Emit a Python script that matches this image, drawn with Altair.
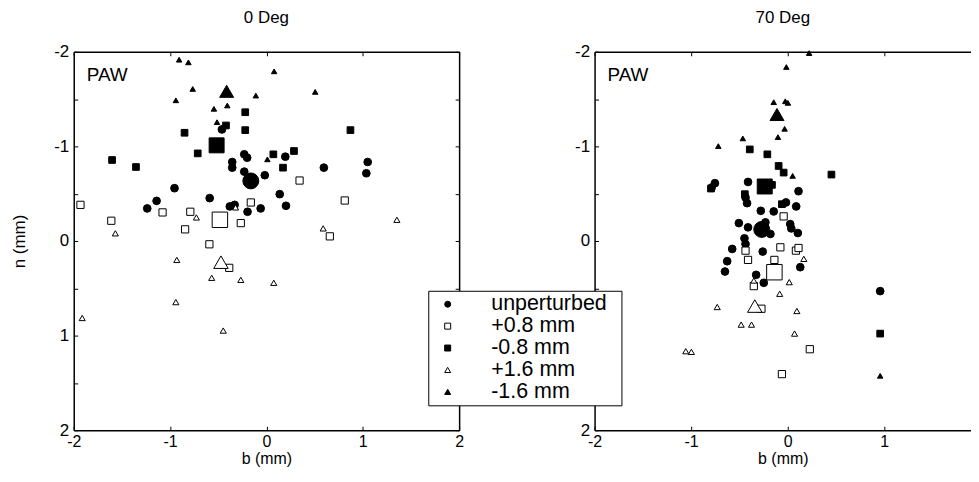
import altair as alt
import pandas as pd

FONT = "Liberation Sans"
CATS = ["unperturbed", "+0.8 mm", "-0.8 mm", "+1.6 mm", "-1.6 mm"]
SHAPES = ["circle", "square", "square", "triangle-up", "triangle-up"]
FILLS = ["black", "white", "black", "white", "black"]
STROKES = ["black", "black", "black", "black", "black"]
SMALL_SIZES = [60, 30, 42, 60, 72]
BIG_SIZES = [256, 196, 196, 361, 400]

LABEL_VALUES = [-2, -1, 0, 1, 2]
XTICKS = [-2, -1, 0, 1, 2]
YTICKS = [-2, -1.5, -1, -0.5, 0, 0.5, 1, 1.5, 2]

# ---------------- 0 Deg panel ----------------
d0_unp_b = [-0.462, -0.23, -0.20, -0.355, -0.355, -0.23, -0.954, -0.589, -1.14, -1.237, -0.38,
            -0.33, -0.196, -0.06, 0.196, -0.017, 0.596, 1.051, 1.037, 0.138, 0.203]
d0_unp_n = [-1.179, -0.916, -0.88, -0.835, -0.775, -0.733, -0.558, -0.453, -0.424, -0.344, -0.365,
            -0.382, -0.309, -0.344, -0.891, -0.695, -0.775, -0.835, -0.716, -0.495, -0.372]
d0_p08_b = [-1.93, -1.61, -1.078, -0.79, -0.162, -0.266, -0.844, -0.592, -0.386, 0.344, 0.813, 0.658]
d0_p08_n = [-0.382, -0.214, -0.302, -0.309, -0.407, -0.189, -0.123, 0.035, 0.284, -0.639, -0.428, -0.049]
d0_m08_b = [-0.22, -0.42, -0.22, -0.85, -0.713, -1.602, -1.354, 0.872, 0.072, 0.286, 0.172]
d0_m08_n = [-1.361, -1.221, -1.172, -1.144, -0.926, -0.856, -0.782, -1.172, -0.916, -0.951, -0.775]
d0_p16_b = [-0.727, -0.32, -1.568, -0.93, -0.568, -0.266, -0.94, -1.912, -0.448, 0.589, 1.354, 0.076]
d0_p16_n = [-0.249, -0.355, -0.081, 0.2, 0.389, 0.411, 0.646, 0.814, 0.947, -0.133, -0.224, 0.442]
d0_m16_b = [-0.906, -0.81, -0.765, -0.94, -0.545, -0.406, -0.11, -0.513, 0.08, 0.506, 0.01]
d0_m16_n = [-1.916, -1.888, -1.607, -1.487, -1.397, -1.432, -1.537, -1.256, -1.793, -1.576, -0.863]
d0_mean_b = [-0.162, -0.483, -0.517, -0.472, -0.413]
d0_mean_n = [-0.635, -0.224, -1.011, 0.224, -1.582]

# ---------------- 70 Deg panel ----------------
d70_unp_b = [-0.753, -0.787, -0.41, -0.436, -0.42, -0.278, -0.144, -0.505, -0.41, -0.23, -0.178,
             -0.447, -0.436, -0.574, -0.258, -0.626, -0.649, -0.326, -0.247, 0.113, -0.017, 0.089,
             0.027, 0.038, 0.106, 0.131, 0.959]
d70_unp_n = [-0.611, -0.565, -0.624, -0.46, -0.4, -0.319, -0.312, -0.189, -0.144, -0.197, -0.074,
             -0.028, 0.032, 0.084, 0.112, 0.214, 0.323, 0.358, 0.442, -0.526, -0.407, -0.365,
             -0.179, -0.133, -0.084, 0.277, 0.53]
d70_p08_b = [-0.041, -0.075, -0.436, -0.41, -0.137, -0.35, -0.271, -0.059, 0.086, 0.113, 0.23]
d70_p08_n = [-0.26, 0.067, 0.102, 0.2, 0.2, 0.477, 0.716, 1.407, 0.102, 0.074, 1.144]
d70_m08_b = [-0.392, -0.21, -0.093, -0.041, -0.794, -0.162, -0.443, -0.059, 0.454, 0.959]
d70_m08_n = [-0.968, -0.916, -0.793, -0.723, -0.554, -0.593, -0.495, -0.389, -0.702, 0.979]
d70_p16_b = [-0.35, 0.017, -0.082, 0.168, -0.729, -0.481, -0.374, -1.055, -0.997, 0.096, 0.072]
d70_p16_n = [0.418, 0.435, 0.558, 0.189, 0.698, 0.884, 0.884, 1.165, 1.172, 0.74, 0.979]
d70_m16_b = [-0.013, -0.144, -0.024, 0.003, -0.031, -0.1, -0.464, -0.718, 0.223, 0.052, 0.959]
d70_m16_n = [-1.839, -1.467, -1.477, -1.46, -1.186, -1.098, -1.084, -1.003, -1.986, -0.688, 1.425]
d70_mean_b = [-0.268, -0.137, -0.237, -0.34, -0.11]
d70_mean_n = [-0.122, 0.33, -0.576, 0.688, -1.337]


def frame(series_b, series_n):
    rows = []
    for cat, bs, ns in zip(CATS, series_b, series_n):
        for b, n in zip(bs, ns):
            rows.append({"b": b, "n": n, "series": cat, "sz": cat})
    return pd.DataFrame(rows)


def mean_frame(mb, mn):
    return pd.DataFrame({"b": mb, "n": mn, "series": CATS, "sz": CATS})


df0 = frame([d0_unp_b, d0_p08_b, d0_m08_b, d0_p16_b, d0_m16_b],
            [d0_unp_n, d0_p08_n, d0_m08_n, d0_p16_n, d0_m16_n])
m0 = mean_frame(d0_mean_b, d0_mean_n)
df70 = frame([d70_unp_b, d70_p08_b, d70_m08_b, d70_p16_b, d70_m16_b],
             [d70_unp_n, d70_p08_n, d70_m08_n, d70_p16_n, d70_m16_n])
m70 = mean_frame(d70_mean_b, d70_mean_n)

YS = alt.Scale(domain=[-2, 2], nice=False, zero=False, reverse=True)
PLOT_H = 380


def ax(orient, **kw):
    base = dict(orient=orient, grid=False, domainColor="black", tickColor="black",
                labelColor="black", titleColor="black", labelFont=FONT, titleFont=FONT,
                labelFontSize=17, titleFontSize=17, titleFontWeight="normal",
                domainWidth=1.5, tickWidth=1, labelFlush=False, labelOverlap=False,
                labelBound=False)
    base.update(kw)
    return alt.Axis(**base)


def panel(df, mdf, title, ytitle, legend, xmax, width, right_box):
    xs = alt.Scale(domain=[-2, xmax], nice=False, zero=False)
    xlab = [v for v in LABEL_VALUES if v <= xmax]
    xt = [v for v in XTICKS if v <= xmax]
    base = alt.Chart(df)
    ghost = base.mark_point(opacity=0)

    def X(axis):
        return alt.X("b:Q", scale=xs, axis=axis)

    def Y(axis):
        return alt.Y("n:Q", scale=YS, axis=axis)

    lab_expr = "'' + datum.value"
    l_lab = ghost.encode(
        x=X(ax("bottom", values=xlab, ticks=False, labelExpr=lab_expr,
               labelPadding=3, titlePadding=1, title="b (mm)",
               labelFontSize=16, titleFontSize=16)),
        y=Y(ax("left", values=LABEL_VALUES, ticks=False, labelExpr=lab_expr,
               labelPadding=5, titlePadding=25, title=ytitle)),
    )
    tick_kw = dict(domain=False, labels=False, ticks=True, tickSize=4, offset=-4, title=None)
    l_t1 = ghost.encode(
        x=X(ax("bottom", values=xt, **tick_kw)),
        y=Y(ax("left", values=YTICKS, **tick_kw)),
    )
    if right_box:
        l_box = ghost.encode(
            x=X(ax("top", labels=False, ticks=False, title=None)),
            y=Y(ax("right", labels=False, ticks=False, title=None)),
        )
        l_t2 = ghost.encode(
            x=X(ax("top", values=xt, **tick_kw)),
            y=Y(ax("right", values=YTICKS, **tick_kw)),
        )
    else:
        l_box = ghost.encode(x=X(ax("top", labels=False, ticks=False, title=None)), y=Y(None))
        l_t2 = ghost.encode(x=X(ax("top", values=xt, **tick_kw)), y=Y(None))

    shape = alt.Shape("series:N", scale=alt.Scale(domain=CATS, range=SHAPES), legend=legend)
    fill = alt.Fill("series:N", scale=alt.Scale(domain=CATS, range=FILLS), legend=legend)
    stroke = alt.Stroke("series:N", scale=alt.Scale(domain=CATS, range=STROKES), legend=legend)

    pts = base.mark_point(filled=True, strokeWidth=1, opacity=1).encode(
        x=X(None), y=Y(None), shape=shape, fill=fill, stroke=stroke,
        size=alt.Size("sz:N", scale=alt.Scale(domain=CATS, range=SMALL_SIZES), legend=None),
    )
    big = alt.Chart(mdf).mark_point(filled=True, strokeWidth=1, opacity=1).encode(
        x=X(None), y=Y(None), shape=shape, fill=fill, stroke=stroke,
        size=alt.Size("sz:N", scale=alt.Scale(domain=CATS, range=BIG_SIZES), legend=None),
    )
    paw = alt.Chart(pd.DataFrame({"t": ["PAW"]})).mark_text(
        font=FONT, fontSize=19, align="left", baseline="middle", color="black"
    ).encode(x=alt.value(13), y=alt.value(23), text="t:N")

    return alt.layer(l_lab, l_box, l_t1, l_t2, pts, big, paw).resolve_axis(
        x="independent", y="independent"
    ).resolve_scale(size="independent").properties(
        width=width, height=PLOT_H,
        title=alt.TitleParams(text=title, font=FONT, fontSize=17, fontWeight="normal",
                              color="black", anchor="middle", offset=16),
    )


legend = alt.Legend(
    orient="none", legendX=-167, legendY=240,
    title="\u00a0", titleOrient="right", titlePadding=12, titleFontSize=2,
    labelFont=FONT, labelFontSize=21.5, labelColor="black",
    symbolSize=36, symbolStrokeColor="black", symbolStrokeWidth=1,
    padding=2.75, rowPadding=-2, symbolOffset=6, labelOffset=33,
    fillColor="white", strokeColor="black", direction="vertical",
)

left = panel(df0, m0, "0 Deg", "n (mm)", None, 2, 387, True)
right = panel(df70, m70, "70 Deg", None, legend, 1.9, 378, False)

chart = alt.hconcat(left, right, spacing=136, bounds="flush").resolve_scale(
    shape="independent", fill="independent", size="independent", stroke="independent"
).configure_view(stroke=None).properties(
    background="white", padding={"left": 2, "top": 0, "right": 0, "bottom": 0}
)

chart.save("out.html", embed_options={"renderer": "svg", "actions": False})
